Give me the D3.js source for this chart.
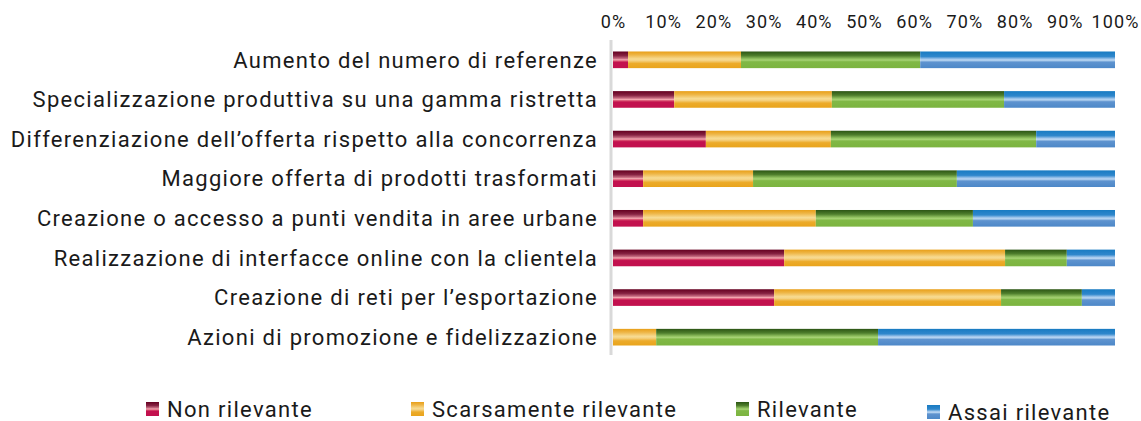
<!DOCTYPE html>
<html>
<head>
<meta charset="utf-8">
<script src="https://cdn.jsdelivr.net/npm/d3@7"></script>
<style>
  html, body { margin: 0; padding: 0; background: #fff; }
  svg { display: block; }
  text { font-family: Roboto, "DejaVu Sans", sans-serif; fill: #1a1a1a; }
</style>
</head>
<body>
<svg id="chart" width="1141" height="421"></svg>
<script>
// Strategie commerciali: quota di risposte per livello di rilevanza (%)
const categories = [
  "Aumento del numero di referenze",
  "Specializzazione produttiva su una gamma ristretta",
  "Differenziazione dell\u2019offerta rispetto alla concorrenza",
  "Maggiore offerta di prodotti trasformati",
  "Creazione o accesso a punti vendita in aree urbane",
  "Realizzazione di interfacce online con la clientela",
  "Creazione di reti per l\u2019esportazione",
  "Azioni di promozione e fidelizzazione"
];
const seriesNames = ["Non rilevante", "Scarsamente rilevante", "Rilevante", "Assai rilevante"];
const nonRilevante         = [3.0, 12.2, 18.5, 6.0, 6.0, 34.1, 32.1, 0.0];
const scarsamenteRilevante = [22.5, 31.4, 24.9, 21.9, 34.4, 44.0, 45.2, 8.6];
const rilevante            = [35.7, 34.3, 40.9, 40.6, 31.3, 12.3, 16.1, 44.2];
const assaiRilevante       = [38.8, 22.1, 15.7, 31.5, 28.3, 9.6, 6.6, 47.2];
const tickValues = [0, 10, 20, 30, 40, 50, 60, 70, 80, 90, 100];

const seriesValues = [nonRilevante, scarsamenteRilevante, rilevante, assaiRilevante];
const rows = categories.map((c, i) => {
  const r = { category: c };
  seriesNames.forEach((s, k) => { r[s] = seriesValues[k][i]; });
  return r;
});

// Vertical gradient per series: dark top, light stripe near the middle, saturated bottom
const gradientStops = [
  [[0, "#650020"], [0.25, "#862242"], [0.42, "#c66a80"], [0.5, "#f3aab2"], [0.58, "#d84c6e"], [0.66, "#c2114e"], [1, "#c2114e"]],
  [[0, "#e89f18"], [0.2, "#eeb545"], [0.45, "#f7db92"], [0.55, "#f5d282"], [0.72, "#ecab2a"], [1, "#e9a41c"]],
  [[0, "#2c5514"], [0.25, "#4e7e2c"], [0.45, "#94c462"], [0.52, "#a6d274"], [0.62, "#80b846"], [1, "#7cb440"]],
  [[0, "#187bc2"], [0.3, "#2f87cc"], [0.47, "#a9cbee"], [0.53, "#b6d4f1"], [0.64, "#5e93cf"], [1, "#4d88c8"]]
];

const svg = d3.select("#chart");
const defs = svg.append("defs");
gradientStops.forEach((stops, k) => {
  const g = defs.append("linearGradient")
    .attr("id", "grad" + k)
    .attr("x1", 0).attr("y1", 0).attr("x2", 0).attr("y2", 1);
  stops.forEach(([o, c]) => g.append("stop").attr("offset", o).attr("stop-color", c));
});

const x = d3.scaleLinear().domain([0, 100]).range([613, 1115]);
const y = d3.scaleBand().domain(categories).range([40, 357]).paddingInner(0.58).paddingOuter(0.29);

const stack = d3.stack().keys(seriesNames);
const layers = stack(rows);

svg.append("g")
  .selectAll("g")
  .data(layers)
  .join("g")
  .attr("fill", (d, k) => `url(#grad${k})`)
  .selectAll("rect")
  .data(d => d)
  .join("rect")
  .attr("x", d => x(d[0]))
  .attr("y", d => y(d.data.category))
  .attr("width", d => Math.max(0, x(d[1]) - x(d[0])))
  .attr("height", y.bandwidth());

// Category axis line
svg.append("line")
  .attr("x1", 611).attr("x2", 611)
  .attr("y1", 40).attr("y2", 355)
  .attr("stroke", "#d9d9d9").attr("stroke-width", 3);

// Category labels
svg.append("g")
  .selectAll("text")
  .data(categories)
  .join("text")
  .attr("x", 598)
  .attr("y", d => y(d) + y.bandwidth() / 2)
  .attr("dy", "0.35em")
  .attr("text-anchor", "end")
  .attr("font-size", 22)
  .attr("letter-spacing", 1.3)
  .text(d => d);

// Top percentage axis
const xAxis = d3.axisTop(x).tickValues(tickValues).tickSize(0).tickPadding(0).tickFormat(d => d + "%");
const ax = svg.append("g").attr("transform", "translate(0,28)").call(xAxis);
ax.select(".domain").remove();
ax.selectAll("text")
  .attr("font-size", 18)
  .attr("letter-spacing", 1.1)
  .attr("font-family", "Roboto, sans-serif")
  .attr("fill", "#1a1a1a");

// Legend
const legendX = [146, 411, 736, 927];
const legendDy = [0, 0, 0, 3];
const legend = svg.append("g")
  .selectAll("g")
  .data(seriesNames)
  .join("g")
  .attr("transform", (d, k) => `translate(${legendX[k]},${402 + legendDy[k]})`);
legend.append("rect")
  .attr("width", 13).attr("height", 14)
  .attr("fill", (d, k) => `url(#grad${k})`);
legend.append("text")
  .attr("x", 21).attr("y", 7)
  .attr("dy", "0.35em")
  .attr("font-size", 22)
  .attr("letter-spacing", 1.3)
  .text(d => d);
</script>
</body>
</html>
